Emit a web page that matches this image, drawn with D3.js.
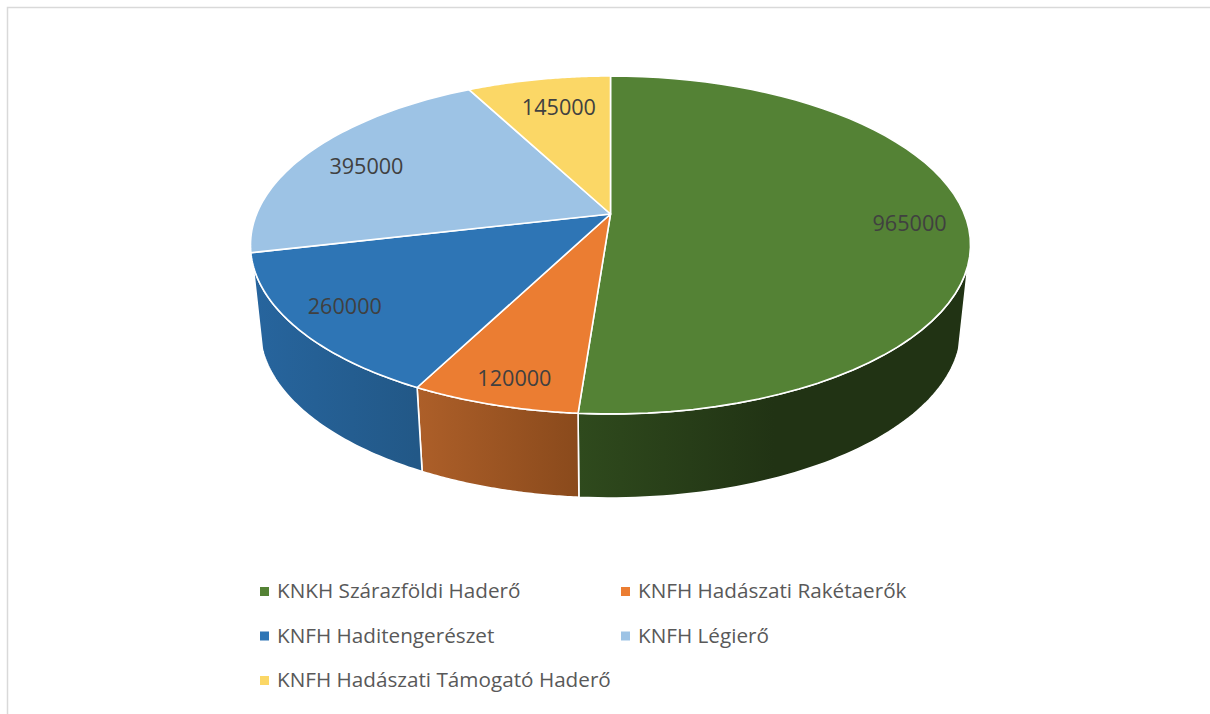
<!DOCTYPE html>
<html><head><meta charset="utf-8">
<script src="https://cdn.jsdelivr.net/npm/d3@7/dist/d3.min.js"></script>
<style>html,body{margin:0;padding:0;background:#fff}svg{display:block}text{font-family:"Open Sans",sans-serif}</style>
</head><body><svg id="c" width="1210" height="714"></svg>
<script>
const categories = ["KNKH Szárazföldi Haderő","KNFH Hadászati Rakétaerők","KNFH Haditengerészet","KNFH Légierő","KNFH Hadászati Támogató Haderő"];
const values = [965000,120000,260000,395000,145000];
const topColors = ["#548235","#eb7d32","#2e75b5","#9dc3e5","#fbd766"];
const sideLight = ["#2f4a1d","#ad5f29","#27659e","#27659e","#27659e"];
const sideDark = ["#213314","#8a4a1c","#225887","#225887","#225887"];
const sideFade = [0.5,1,1,1,1];

const svg = d3.select("#c");
// chart frame
svg.append("path").attr("d","M7.5 714V7.5H1210").attr("fill","none").attr("stroke","#d9d9d9").attr("stroke-width",1.5);

// perspective projection of the pie disc
const apex = [610.5,214], persp = -0.1834, A = 353.9, B = 163.3;
function proj(theta, r, drop) {
  const u = r*Math.sin(theta), v = -r*Math.cos(theta), d = 1 + persp*v;
  const k = drop ? 0.974 : 1;
  return [apex[0] + k*A*u/d, apex[1] + B*v/d + (drop ? 84 : 0)];
}
const arcs = d3.pie().sort(null).value(d=>d)(values);
const line = d3.line();
const samples = (a,b) => d3.range(0,61).map(i => a + (b-a)*i/60);

// side wall gradients
const defs = svg.append("defs");
arcs.forEach((s,i)=>{
  const xs = samples(s.startAngle,s.endAngle).map(t=>proj(t,1,false)[0]);
  const g = defs.append("linearGradient").attr("id","w"+i).attr("gradientUnits","userSpaceOnUse")
    .attr("x1",d3.min(xs)).attr("x2",d3.max(xs)).attr("y1",0).attr("y2",0);
  g.append("stop").attr("offset",0).attr("stop-color",sideLight[i]);
  g.append("stop").attr("offset",sideFade[i]).attr("stop-color",sideDark[i]);
});

// walls: only the front part of the disc is visible
const layer = svg.append("g").attr("stroke","#fff").attr("stroke-width",1.6).attr("stroke-linejoin","round");
const front0 = Math.PI/2 + 0.30, front1 = 3*Math.PI/2 - 0.30;
arcs.forEach((s,i)=>{
  const a = Math.max(s.startAngle,front0), b = Math.min(s.endAngle,front1);
  if (b <= a) return;
  const ts = samples(a,b);
  const pts = ts.map(t=>proj(t,1,false)).concat(ts.slice().reverse().map(t=>proj(t,1,true)));
  layer.append("path").attr("d",line(pts)+"Z").attr("fill",`url(#w${i})`);
});
// top faces
arcs.forEach((s,i)=>{
  const pts = [apex].concat(samples(s.startAngle,s.endAngle).map(t=>proj(t,1,false)));
  layer.append("path").attr("d",line(pts)+"Z").attr("fill",topColors[i]);
});

// data labels
const labelRadius = [0.838,0.882,0.853,0.79,0.763];
const labelTurn = [1.9,-0.7,0.8,-1.8,1.3];
arcs.forEach((s,i)=>{
  const mid = (s.startAngle+s.endAngle)/2 + labelTurn[i]*Math.PI/180;
  const p = proj(mid,labelRadius[i],false);
  svg.append("text").attr("x",p[0]).attr("y",p[1]).attr("dy","0.35em").attr("text-anchor","middle")
    .attr("font-size",21.6).attr("fill","#404040").text(d3.format("d")(values[i]));
});

// legend
const col = d3.scalePoint().domain([0,1]).range([260,621]);
const row = d3.scalePoint().domain([0,1,2]).range([591,680]);
categories.forEach((c,i)=>{
  const x = col(i%2), y = row(Math.floor(i/2));
  svg.append("rect").attr("x",x).attr("y",y-4).attr("width",9).attr("height",9).attr("fill",topColors[i]);
  svg.append("text").attr("x",x+17).attr("y",y).attr("dy","0.35em").attr("font-size",20.7).attr("fill","#595959").text(c);
});
</script></body></html>
